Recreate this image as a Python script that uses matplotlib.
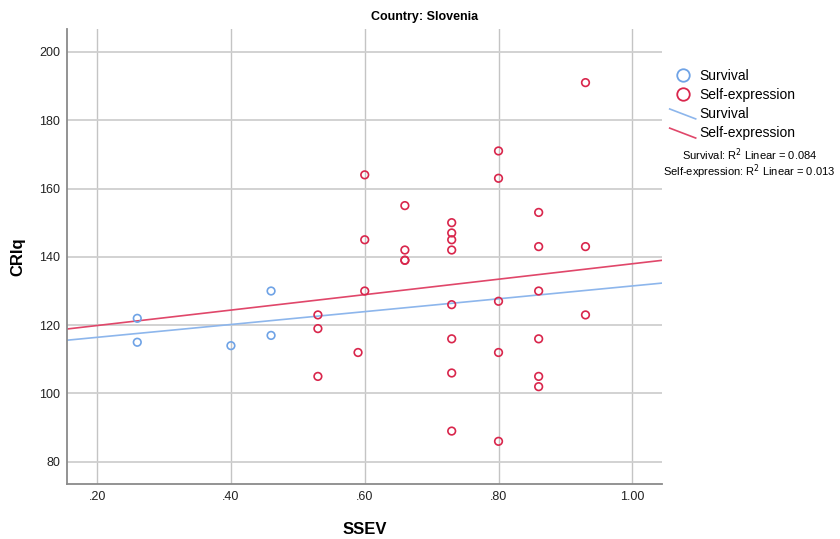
import numpy as np
import matplotlib
matplotlib.use("Agg")
from matplotlib import pyplot as plt
from matplotlib.lines import Line2D
from matplotlib.legend_handler import HandlerBase

plt.rcParams['font.family'] = ['Liberation Sans', 'DejaVu Sans']

# Survival group
surv_x = [0.26, 0.26, 0.40, 0.46, 0.46]
surv_y = [122, 115, 114, 130, 117]

# Self-expression group
self_x = [0.53, 0.53, 0.53, 0.59, 0.60, 0.60, 0.60,
          0.66, 0.66, 0.66, 0.66,
          0.73, 0.73, 0.73, 0.73, 0.73, 0.73, 0.73, 0.73,
          0.80, 0.80, 0.80, 0.80, 0.80,
          0.86, 0.86, 0.86, 0.86, 0.86, 0.86,
          0.93, 0.93, 0.93]
self_y = [123, 119, 105, 112, 164, 145, 130,
          155, 142, 139, 139,
          150, 147, 145, 142, 126, 116, 106, 89,
          171, 163, 127, 112, 86,
          153, 143, 130, 116, 105, 102,
          191, 143, 123]

x_ticks = [0.2, 0.4, 0.6, 0.8, 1.0]
x_labels = ['.20', '.40', '.60', '.80', '1.00']
y_ticks = [80, 100, 120, 140, 160, 180, 200]

blue = '#6fa3e6'
red = '#d9264c'
blue_line = '#8db6ec'
red_line = '#e0476a'


# SPSS draws the fit-line legend keys as a slanted stroke
class DiagHandler(HandlerBase):
    def create_artists(self, legend, orig_handle, xdescent, ydescent, width, height, fontsize, trans):
        line = Line2D([-xdescent, -xdescent + width], [height * 0.95, -0.5],
                      color=orig_handle.get_color(), lw=orig_handle.get_linewidth())
        line.set_transform(trans)
        return [line]


fig = plt.figure(figsize=(8.4, 5.39), dpi=100)
ax = fig.add_axes([0.0798, 0.102, 0.708, 0.8436])

xlim = (0.155, 1.044)
ylim = (73.5, 206.6)

ax.scatter(surv_x, surv_y, s=30, facecolors='none', edgecolors=blue, linewidths=1.2, zorder=3)
ax.scatter(self_x, self_y, s=30, facecolors='none', edgecolors=red, linewidths=1.2, zorder=3)

# linear fit lines across the whole x range
xx = np.array(xlim)
b1, a1 = np.polyfit(surv_x, surv_y, 1)
b2, a2 = np.polyfit(self_x, self_y, 1)
ax.plot(xx, a1 + b1 * xx, color=blue_line, lw=1.2, zorder=2)
ax.plot(xx, a2 + b2 * xx, color=red_line, lw=1.2, zorder=2)

ax.set_xlim(*xlim)
ax.set_ylim(*ylim)
ax.set_xticks(x_ticks)
ax.set_xticklabels(x_labels)
ax.set_yticks(y_ticks)
ax.tick_params(length=0, labelsize=9, colors='#222222', pad=5)
ax.grid(True, color='#cfcfcf', lw=1.3)
ax.xaxis.grid(True, color='#c4c4c4', lw=1.0)
ax.set_axisbelow(True)
for s in ['top', 'right']:
    ax.spines[s].set_visible(False)
for s in ['left', 'bottom']:
    ax.spines[s].set_color('#8a8a8a')
    ax.spines[s].set_linewidth(1.3)

ax.set_xlabel('SSEV', fontsize=12, fontweight='bold', labelpad=14)
ax.set_ylabel('CRIq', fontsize=12, fontweight='bold', labelpad=10)
fig.text(0.505, 0.968, 'Country: Slovenia', ha='center', va='center', fontsize=9, fontweight='bold')

fit_blue = Line2D([], [], color=blue_line, lw=1.2)
fit_red = Line2D([], [], color=red_line, lw=1.2)
handles = [
    Line2D([], [], ls='none', marker='o', markersize=9, mfc='none', mec=blue, mew=1.3),
    Line2D([], [], ls='none', marker='o', markersize=9, mfc='none', mec=red, mew=1.3),
    fit_blue,
    fit_red,
]
labels = ['Survival', 'Self-expression', 'Survival', 'Self-expression']
fig.legend(handles, labels, loc='upper left', bbox_to_anchor=(0.789, 0.885), frameon=False,
           fontsize=10, handlelength=1.87, handletextpad=0.27, labelspacing=0.37, borderpad=0,
           handler_map={fit_blue: DiagHandler(), fit_red: DiagHandler()})

fig.text(0.892, 0.7124, 'Survival: R$^2$ Linear = 0.084', ha='center', va='center', fontsize=8)
fig.text(0.892, 0.6815, 'Self-expression: R$^2$ Linear = 0.013', ha='center', va='center', fontsize=8)

fig.savefig('out.png', dpi=100)
